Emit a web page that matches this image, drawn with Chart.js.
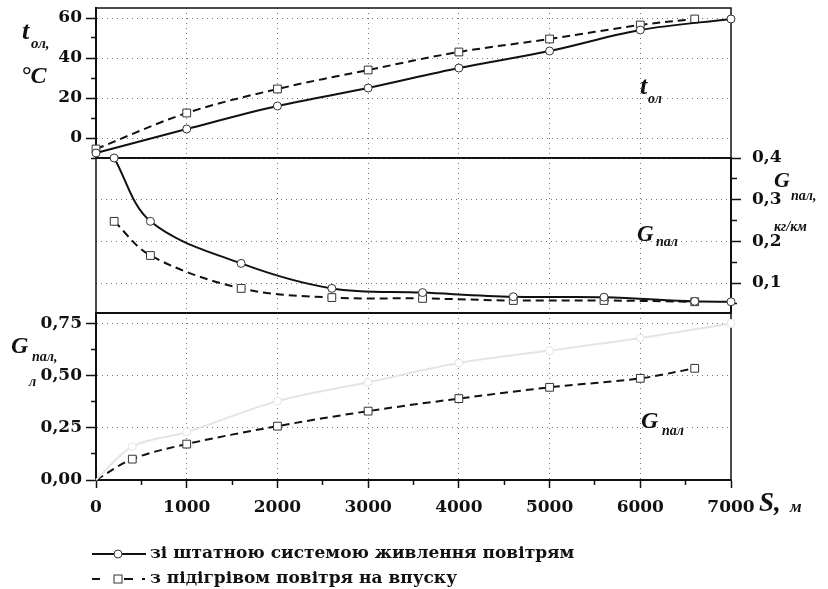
<!DOCTYPE html>
<html>
<head>
<meta charset="utf-8">
<script src="https://cdn.jsdelivr.net/npm/chart.js@4.4.1/dist/chart.umd.min.js"></script>
<style>
  body { margin: 0; background: #fff; }
  #wrap { position: relative; width: 828px; height: 589px; color: #111; }
  #wrap canvas { position: absolute; left: 0; top: 0; }
  .it { position: absolute; font-family: 'Liberation Serif', serif; font-weight: bold; font-style: italic; line-height: 1; white-space: nowrap; }
  .leg { position: absolute; left: 92px; font-family: 'DejaVu Serif', serif; font-weight: bold; font-size: 17px; line-height: 1; white-space: nowrap; }
  .leg svg { vertical-align: middle; margin-right: 4px; }
</style>
</head>
<body>
<div id="wrap">
  <canvas id="cTop" width="828" height="589"></canvas>
  <canvas id="cMid" width="828" height="589"></canvas>
  <canvas id="cBot" width="828" height="589"></canvas>

  <!-- axis titles / curve labels -->
  <div class="it" style="left:22px;top:18px;font-size:26px">t</div>
  <div class="it" style="left:31px;top:36px;font-size:15px">ол,</div>
  <div class="it" style="left:21px;top:63px;font-size:24px">°C</div>
  <div class="it" style="left:640px;top:73px;font-size:26px">t</div>
  <div class="it" style="left:648px;top:92px;font-size:14px">ол</div>

  <div class="it" style="left:774px;top:169px;font-size:22px">G</div>
  <div class="it" style="left:791px;top:189px;font-size:14px">пал,</div>
  <div class="it" style="left:774px;top:220px;font-size:14px">кг/км</div>
  <div class="it" style="left:637px;top:222px;font-size:23px">G</div>
  <div class="it" style="left:656px;top:235px;font-size:14px">пал</div>

  <div class="it" style="left:11px;top:333px;font-size:24px">G</div>
  <div class="it" style="left:32px;top:350px;font-size:14px">пал,</div>
  <div class="it" style="left:29px;top:375px;font-size:14px">л</div>
  <div class="it" style="left:641px;top:408px;font-size:24px">G</div>
  <div class="it" style="left:662px;top:424px;font-size:14px">пал</div>

  <div class="it" style="left:759px;top:489px;font-size:27px">S,</div>
  <div class="it" style="left:790px;top:498px;font-size:17px">м</div>

  <div class="leg" style="top:544px">
    <svg width="54" height="14"><line x1="0" y1="7" x2="54" y2="7" stroke="#111" stroke-width="2"/><circle cx="26" cy="7" r="4" fill="#fff" stroke="#333" stroke-width="1"/></svg>зі штатною системою живлення повітрям
  </div>
  <div class="leg" style="top:569px">
    <svg width="54" height="14"><line x1="0" y1="7" x2="8" y2="7" stroke="#111" stroke-width="2"/><line x1="23" y1="7" x2="43" y2="7" stroke="#111" stroke-width="2" stroke-dasharray="3 6 9 2"/><rect x="22" y="3" width="8" height="8" fill="#fff" stroke="#333" stroke-width="1"/><line x1="50" y1="7" x2="53" y2="7" stroke="#111" stroke-width="2"/></svg>з підігрівом повітря на впуску
  </div>
</div>

<script>
// ---- data ----
// top panel: coolant temperature t_ол, °C
const S_T_BASE = [0, 1000, 2000, 3000, 4000, 5000, 6000, 7000];
const T_BASE   = [-7.5, 4.5, 16, 25, 35, 43.5, 54, 59.5];
const S_T_HEAT = [0, 1000, 2000, 3000, 4000, 5000, 6000, 6600];
const T_HEAT   = [-5.5, 12.5, 24.5, 34, 43, 49.5, 56.5, 59.5];

// middle panel: fuel consumption G_пал, кг/км
const S_G_BASE = [200, 600, 1600, 2600, 3600, 4600, 5600, 6600, 7000];
const G_BASE   = [0.4, 0.248, 0.147, 0.087, 0.077, 0.067, 0.066, 0.056, 0.055];
const S_G_HEAT = [200, 600, 1600, 2600, 3600, 4600, 5600, 6600];
const G_HEAT   = [0.248, 0.166, 0.087, 0.065, 0.063, 0.058, 0.058, 0.055];

// bottom panel: cumulative fuel G_пал, л
const S_L_BASE = [0, 400, 1000, 2000, 3000, 4000, 5000, 6000, 7000];
const L_BASE   = [0, 0.16, 0.23, 0.378, 0.468, 0.56, 0.62, 0.68, 0.75];
const S_L_HEAT = [0, 400, 1000, 2000, 3000, 4000, 5000, 6000, 6600];
const L_HEAT   = [0, 0.1, 0.172, 0.258, 0.33, 0.39, 0.444, 0.487, 0.535];

// ticks
const X_TICKS   = [0, 500, 1000, 1500, 2000, 2500, 3000, 3500, 4000, 4500, 5000, 5500, 6000, 6500, 7000];
const T_TICKS   = [-10, 0, 10, 20, 30, 40, 50, 60];
const G_TICKS   = [0.05, 0.1, 0.15, 0.2, 0.25, 0.3, 0.35, 0.4];
const L_TICKS   = [0, 0.125, 0.25, 0.375, 0.5, 0.625, 0.75];

// ---- styling ----
const INK = '#111';
const GRID = '#777';
const FAINT = '#e4e4e4';
const tickFont = { family: "'DejaVu Serif', serif", size: 17, weight: 'bold' };

const xMajor = v => v % 1000 === 0;
const tMajor = v => v >= 0 && v % 20 === 0;
const gMajor = v => Math.round(v * 100) % 10 === 0;
const lMajor = v => Math.round(v * 1000) % 250 === 0;

const pts = (xs, ys) => xs.map((x, i) => ({ x, y: ys[i] }));

function solid(xs, ys, color) {
  return {
    data: pts(xs, ys), borderColor: color || INK, borderWidth: 2,
    pointStyle: 'circle', pointRadius: 4, pointBackgroundColor: '#fff',
    pointBorderColor: color || '#333', pointBorderWidth: 1,
    tension: 0.35, clip: 8
  };
}
function dashed(xs, ys) {
  return {
    data: pts(xs, ys), borderColor: INK, borderWidth: 2, borderDash: [8, 5],
    pointStyle: 'rect', pointRadius: 5.5, pointBackgroundColor: '#fff',
    pointBorderColor: '#333', pointBorderWidth: 1,
    tension: 0.35, clip: 8
  };
}

function xScale(show) {
  return {
    type: 'linear', min: 0, max: 7000,
    afterBuildTicks: s => { s.ticks = X_TICKS.map(v => ({ value: v })); },
    afterFit: s => { s.height = show ? 50 : 0; s.paddingLeft = 0; s.paddingRight = 0; },
    grid: {
      color: c => (xMajor(c.tick.value) && c.tick.value > 0 && c.tick.value < 7000) ? GRID : 'transparent',
      drawTicks: show, tickLength: 8, tickColor: INK, tickWidth: 1.5,
      tickBorderDash: c => xMajor(c.tick.value) ? [] : [4, 100]
    },
    border: { color: INK, width: 2, dash: [1, 4] },
    ticks: {
      display: show, autoSkip: false, maxRotation: 0, padding: 9,
      font: tickFont, color: INK,
      callback: v => xMajor(v) ? String(v) : ''
    }
  };
}

// y axis on the left (ticks drawn outer -> border), or right (border -> outer)
function yScale(pos, min, max, ticks, isMajor, fmt) {
  const left = pos === 'left';
  return {
    type: 'linear', position: pos, min, max,
    afterBuildTicks: s => { s.ticks = ticks.map(v => ({ value: v })); },
    afterFit: s => { s.width = left ? 96 : 97; s.paddingTop = 0; s.paddingBottom = 0; },
    grid: {
      color: c => isMajor(c.tick.value) ? GRID : 'transparent',
      tickLength: 10, tickColor: INK, tickWidth: 1.5,
      tickBorderDash: c => isMajor(c.tick.value) ? [] : [5, 100],
      tickBorderDashOffset: c => (left && !isMajor(c.tick.value)) ? -5 : 0
    },
    border: { color: INK, width: 2, dash: [1, 4] },
    ticks: {
      autoSkip: false, padding: left ? 4 : 11, font: tickFont, color: INK,
      callback: v => isMajor(v) ? fmt(v) : ''
    }
  };
}

const framePlugin = {
  id: 'frame',
  beforeDatasetsDraw(chart) {
    const { ctx, chartArea: a } = chart;
    ctx.save();
    ctx.strokeStyle = INK;
    ctx.lineWidth = 1.5;
    ctx.strokeRect(a.left, a.top, a.right - a.left, a.bottom - a.top);
    ctx.restore();
  }
};

const baseOpts = {
  responsive: false, animation: false, events: [],
  plugins: { legend: { display: false }, tooltip: { enabled: false } }
};

new Chart(document.getElementById('cTop'), {
  type: 'line',
  data: { datasets: [solid(S_T_BASE, T_BASE), dashed(S_T_HEAT, T_HEAT)] },
  options: {
    ...baseOpts,
    layout: { padding: { left: 0, right: 97, top: 8, bottom: 431 } },
    scales: {
      x: xScale(false),
      y: yScale('left', -10, 65, T_TICKS, tMajor, v => String(v))
    }
  },
  plugins: [framePlugin]
});

new Chart(document.getElementById('cMid'), {
  type: 'line',
  data: { datasets: [solid(S_G_BASE, G_BASE), dashed(S_G_HEAT, G_HEAT)] },
  options: {
    ...baseOpts,
    layout: { padding: { left: 96, right: 0, top: 158, bottom: 276 } },
    scales: {
      x: xScale(false),
      y: yScale('right', 0.028, 0.4, G_TICKS, gMajor, v => v.toFixed(1).replace('.', ','))
    }
  },
  plugins: [framePlugin]
});

const botBase = solid(S_L_BASE, L_BASE, FAINT);
const botHeat = dashed(S_L_HEAT, L_HEAT);
botHeat.pointRadius = L_HEAT.map((v, i) => i === 0 ? 0 : 5.5);
botBase.pointRadius = L_BASE.map((v, i) => i === 0 ? 0 : 4);

new Chart(document.getElementById('cBot'), {
  type: 'line',
  data: { datasets: [botBase, botHeat] },
  options: {
    ...baseOpts,
    layout: { padding: { left: 0, right: 97, top: 313, bottom: 59 } },
    scales: {
      x: xScale(true),
      y: yScale('left', 0, 0.8, L_TICKS, lMajor, v => v.toFixed(2).replace('.', ','))
    }
  },
  plugins: [framePlugin]
});
</script>
</body>
</html>
